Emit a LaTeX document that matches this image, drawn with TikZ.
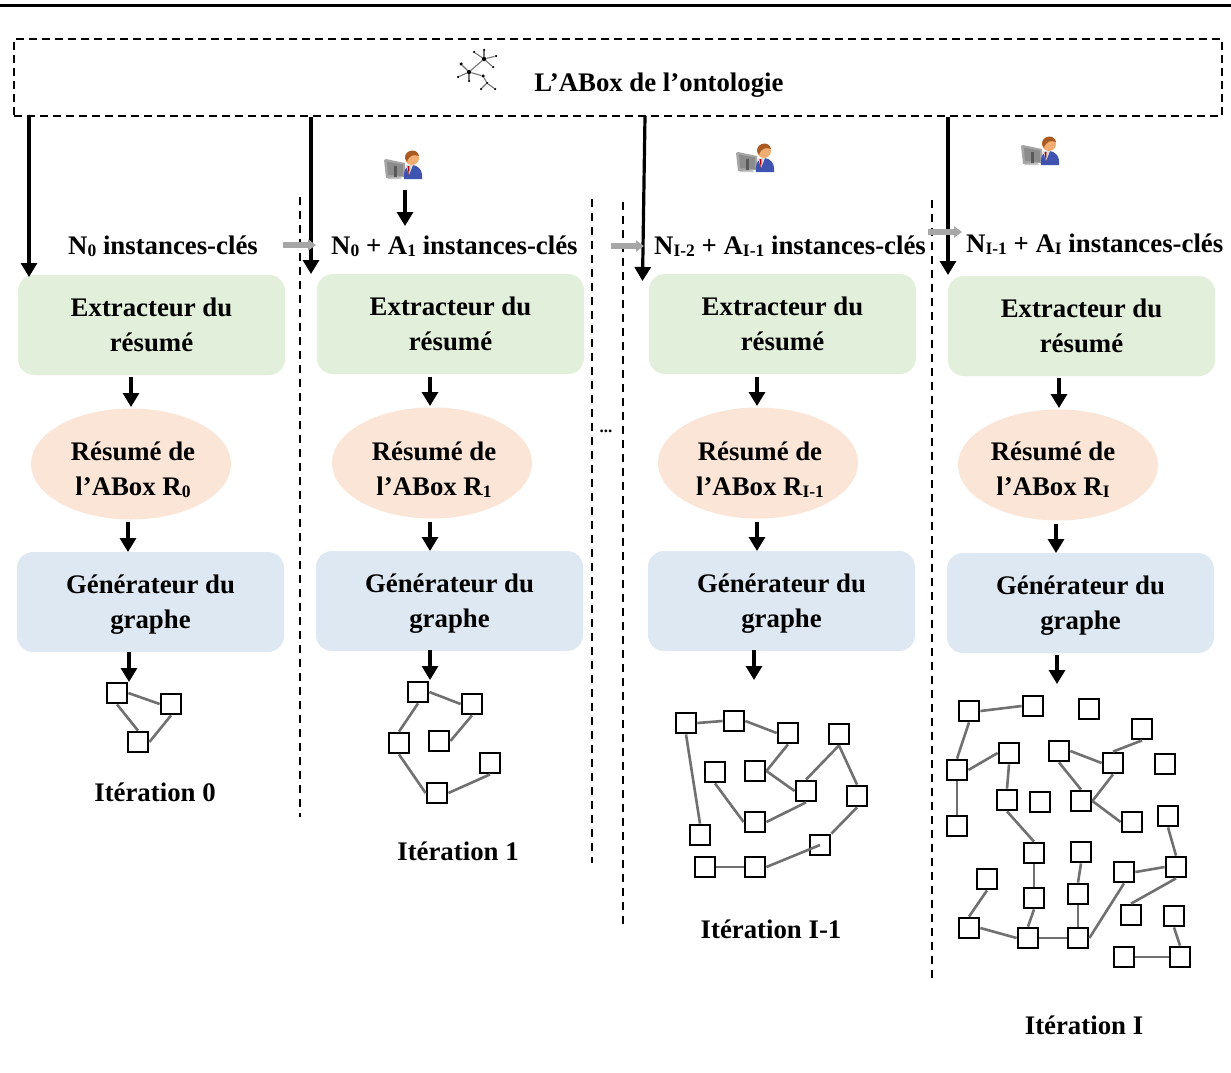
\documentclass[tikz,border=0pt]{standalone}
\usepackage{fontspec}
\setmainfont{Liberation Serif}
\usetikzlibrary{arrows.meta,shapes.geometric}
\definecolor{boxgreen}{HTML}{E2EFDA}
\definecolor{boxpeach}{HTML}{FBE5D6}
\definecolor{boxblue}{HTML}{DEE8F3}
\definecolor{edgegray}{HTML}{707070}
\definecolor{flowgray}{HTML}{A6A6A6}
\definecolor{uskin}{HTML}{F2AE72}
\definecolor{uhair}{HTML}{A85A22}
\definecolor{ubody}{HTML}{3F54B0}
\definecolor{uscreen}{HTML}{8C8C8C}
\newcommand{\lowr}[1]{\raisebox{-2pt}{\fontsize{17.5}{17.5}\selectfont #1}}
\newcommand{\strt}{\rule[-9pt]{0pt}{35pt}}
\newcommand{\twol}[2]{\strt #1\\\strt #2}
\tikzset{
  x=1pt,y=-1pt,
  txt/.style={font=\fontsize{26.8}{35}\selectfont\bfseries,inner sep=0pt,align=center,text=black},
  extractbox/.style={txt,draw=none,fill=boxgreen,rounded corners=16pt,minimum width=267pt,minimum height=100pt},
  genbox/.style={txt,draw=none,fill=boxblue,rounded corners=16pt,minimum width=267pt,minimum height=100pt},
  resume/.style={ellipse,fill=boxpeach,minimum width=200pt,minimum height=111pt,inner sep=0pt},
  flow/.style={line width=3.2pt,-{Triangle[length=14pt,width=16pt]},black},
  grayflow/.style={line width=5.6pt,-{Triangle[length=8pt,width=11pt]},flowgray},
  sq/.style={draw=black,fill=white,line width=2.8pt,minimum size=20pt,inner sep=0pt},
  edge/.style={line width=2.6pt,edgegray},
  sep/.style={line width=1.9pt,dash pattern=on 8pt off 6pt,black},
  dot/.style={circle,fill=black,inner sep=0pt,minimum size=#1},
  dot/.default=3pt,
  thin link/.style={line width=1.1pt,black!55},
  pics/usericon/.style={code={
    \fill[black!22] (2,29) -- (17,29) -- (14,26) -- (6,26) -- cycle;
    \fill[black!35] (-1,10) -- (1,9) -- (20,13) -- (21,27) -- (1,28) -- cycle;
    \fill[uscreen] (2,11.5) -- (18,14.5) -- (18,26) -- (3,25) -- cycle;
    \fill[black!65] (9,16) rectangle (12,27);
    \fill[ubody] (19,29) .. controls (18,20) and (22,15) .. (27,15) .. controls (33,15) and (38,20) .. (37,29) -- cycle;
    \fill[white!85!black] (21,15) -- (28,15) -- (24,25) -- cycle;
    \fill[red!70!black] (22.5,16) -- (24.5,16) -- (24,26) -- cycle;
    \fill[uskin] (27,8) circle (7);
    \fill[uhair] (20,8) .. controls (20,-1) and (33,-2) .. (34,6) .. controls (29,4) and (24,5) .. (22,12) -- cycle;
  }}
}
\begin{document}
\begin{tikzpicture}
\useasboundingbox (0,0) rectangle (1231,1072);
\fill[white] (0,0) rectangle (1231,1072);
\coordinate (ruleL) at (0,5.5);
\coordinate (ruleR) at (1231,5.5);
\draw[line width=3pt] (ruleL) -- (ruleR);

% ABox
\node[draw=black,line width=1.9pt,dash pattern=on 8pt off 5pt,minimum width=1208pt,minimum height=77pt,inner sep=0pt] (abox) at (618,77.5) {};
\node[txt,anchor=base] (aboxt) at (659,91) {L’ABox de l’ontologie};

% network icon
\foreach \n/\px/\py/\r in {nA/484/59/4.5pt,nB/474/52/2.5pt,nC/484/50/2.5pt,nD/496/56/2.5pt,nE/493/67/2.5pt,
  nF/469/72/4.5pt,nG/461/64/3.5pt,nH/458/77/2.5pt,nI/469/81/2.5pt,nJ/483/76/3.5pt,nK/487/83/2.5pt,nL/481/89/2.5pt,nM/495/89/2.5pt}
  \node[dot=\r] (\n) at (\px,\py) {};
\foreach \p/\q in {nA/nB,nA/nC,nA/nD,nA/nE,nA/nF,nF/nG,nF/nH,nF/nI,nF/nJ,nJ/nK,nK/nL,nK/nM}
  \draw[thin link] (\p) -- (\q);

% separators
\coordinate (s1a) at (300,197); \coordinate (s1b) at (300,817);
\coordinate (s2a) at (592,199); \coordinate (s2b) at (592,863);
\coordinate (s3a) at (623,202); \coordinate (s3b) at (623,925);
\coordinate (s4a) at (932,200); \coordinate (s4b) at (932,978);
\draw[sep] (s1a) -- (s1b);
\draw[sep] (s2a) -- (s2b);
\draw[sep] (s3a) -- (s3b);
\draw[sep] (s4a) -- (s4b);
\node[txt,font=\fontsize{17}{17}\selectfont\bfseries] (dots) at (606,431) {...};

% instance labels
\node[txt,anchor=base west] (l0) at (68,254) {N\lowr{0} instances-clés};
\node[txt,anchor=base west] (l1) at (331,254) {N\lowr{0} + A\lowr{1} instances-clés};
\node[txt,anchor=base west] (l2) at (654,254) {N\lowr{I-2} + A\lowr{I-1} instances-clés};
\node[txt,anchor=base west] (l3) at (966,252) {N\lowr{I-1} + A\lowr{I} instances-clés};

% column boxes
\node[extractbox] (g0) at (151.5,325) {\twol{Extracteur du}{résumé}};
\node[extractbox] (g1) at (450.5,324) {\twol{Extracteur du}{résumé}};
\node[extractbox] (g2) at (782.5,324) {\twol{Extracteur du}{résumé}};
\node[extractbox] (g3) at (1081.5,326) {\twol{Extracteur du}{résumé}};

\node[resume] (e0) at (131,464) {};
\node[resume] (e1) at (432,463) {};
\node[resume] (e2) at (758,463) {};
\node[resume] (e3) at (1058,465) {};
\node[txt] (et0) at (133,469) {\twol{Résumé de}{l’ABox R\lowr{0}}};
\node[txt] (et1) at (434,469) {\twol{Résumé de}{l’ABox R\lowr{1}}};
\node[txt] (et2) at (760,469) {\twol{Résumé de}{l’ABox R\lowr{I-1}}};
\node[txt] (et3) at (1053,469.5) {\twol{Résumé de}{l’ABox R\lowr{I}}};

\node[genbox] (b0) at (150.5,602) {\twol{Générateur du}{graphe}};
\node[genbox] (b1) at (449.5,601) {\twol{Générateur du}{graphe}};
\node[genbox] (b2) at (781.5,601) {\twol{Générateur du}{graphe}};
\node[genbox] (b3) at (1080.5,603) {\twol{Générateur du}{graphe}};

% top flows
\coordinate (t0) at (29,277); \coordinate (t1) at (311,274);
\coordinate (t2) at (642.5,281); \coordinate (t2s) at (645,116); \coordinate (t3) at (948,275);
\draw[flow] (t0 |- abox.south) -- (t0);
\draw[flow] (t1 |- abox.south) -- (t1);
\draw[flow] (t2s) -- (t2);
\draw[flow] (t3 |- abox.south) -- (t3);

% gray flows
\draw[grayflow,shorten <=25pt,shorten >=15pt] (l0.east |- 0,245) -- (l1.west |- 0,245);
\draw[grayflow,shorten <=33pt,shorten >=10pt] (l1.east |- 0,246) -- (l2.west |- 0,246);
\coordinate (ga) at (928,232); \coordinate (gb) at (962,232);
\draw[grayflow] (ga) -- (gb);

% users
\pic at (385,150) {usericon};
\pic at (737,143) {usericon};
\pic at (1022,136) {usericon};
\coordinate (ua) at (405,190); \coordinate (ub) at (405,226);
\draw[flow] (ua) -- (ub);

% inner flows
\coordinate (f00) at (131,377); \coordinate (f01) at (131,407);
\coordinate (f02) at (128,522); \coordinate (f03) at (128,552);
\coordinate (f04) at (129,652); \coordinate (f05) at (129,682);
\coordinate (f10) at (430,377); \coordinate (f11) at (430,406);
\coordinate (f12) at (430,522); \coordinate (f13) at (430,551);
\coordinate (f14) at (430,650); \coordinate (f15) at (430,680);
\coordinate (f20) at (757,377); \coordinate (f21) at (757,406);
\coordinate (f22) at (757,522); \coordinate (f23) at (757,551);
\coordinate (f24) at (754,650); \coordinate (f25) at (754,680);
\coordinate (f30) at (1059,378); \coordinate (f31) at (1059,408);
\coordinate (f32) at (1056,524); \coordinate (f33) at (1056,553);
\coordinate (f34) at (1057,655); \coordinate (f35) at (1057,684);
\foreach \a/\b in {f00/f01,f02/f03,f04/f05,f10/f11,f12/f13,f14/f15,f20/f21,f22/f23,f24/f25,f30/f31,f32/f33,f34/f35}
  \draw[flow] (\a) -- (\b);

% graph 0
\foreach \n/\px/\py in {pa/117/693,pb/171/704,pc/138/742}
  \node[sq] (\n) at (\px,\py) {};
\foreach \p/\q in {pa.east/pb.west,pa.south/pc.north,pb.south/pc.east}
  \draw[edge] (\p) -- (\q);

% graph 1
\foreach \n/\px/\py in {qa/418/692,qb/472/704,qc/399/743,qd/439/741,qe/490/763,qf/437/793}
  \node[sq] (\n) at (\px,\py) {};
\foreach \p/\q in {qa.east/qb.west,qa.south/qc.north,qb.south/qd.east,qc.south/qf.west,qf.east/qe.south}
  \draw[edge] (\p) -- (\q);

% graph I-1
\foreach \n/\px/\py in {ra/686/723,rb/734/721,rc/788/733,rd/839/734,re/715/772,rf/755/771,rg/806/791,rh/857/796,ri/755/822,rj/700/835,rk/820/845,rl/705/867,rm/755/867}
  \node[sq] (\n) at (\px,\py) {};
\foreach \p/\q in {ra.east/rb.west,rb.east/rc.west,rc.south/rf.east,rf.east/rg.west,rd.south/rg.north,rd.south/rh.north,rh.south/rk.north east,rk.center/rm.east,rl.east/rm.west,ra.south/rj.north,re.south/ri.west,ri.east/rg.south}
  \draw[edge] (\p) -- (\q);

% graph I
\foreach \n/\px/\py in {sa/969/711,sb/1033/706,sc/1089/709,sd/1142/729,se/1009/753,sf/1059/751,sg/1113/763,sh/1165/764,si/957/770,sj/1007/800,sk/1040/802,sl/1081/801,sm/957/826,sn/1132/822,so/1168/816,sp/1034/853,sq/1081/852,sr/1124/872,ss/1176/867,st/987/879,su/1034/898,sv/1078/894,sw/1131/915,sx/1174/916,sy/969/928,sz/1028/938,saa/1078/938,sab/1124/957,sac/1180/957}
  \node[sq] (\n) at (\px,\py) {};
\foreach \p/\q in {sa.east/sb.west,sa.south/si.north,si.east/se.west,si.south/sm.north,se.south/sj.north,sj.south/sp.north,sp.south/su.north,su.south/sz.north,sy.east/sz.west,st.south/sy.north,sz.east/saa.west,sq.south/sv.north,sv.south/saa.north,saa.east/sr.south,sr.east/ss.west,so.south/ss.north,ss.south/sw.north,sx.south/sac.north,sab.east/sac.west,sf.east/sg.west,sf.south/sl.north,sg.south/sl.east,sg.north/sd.south,sl.east/sn.west}
  \draw[edge] (\p) -- (\q);

% iteration labels
\node[txt] (it0) at (155,792) {Itération 0};
\node[txt] (it1) at (458,851) {Itération 1};
\node[txt] (it2) at (771,929) {Itération I-1};
\node[txt] (it3) at (1084,1025) {Itération I};
\end{tikzpicture}
\end{document}
